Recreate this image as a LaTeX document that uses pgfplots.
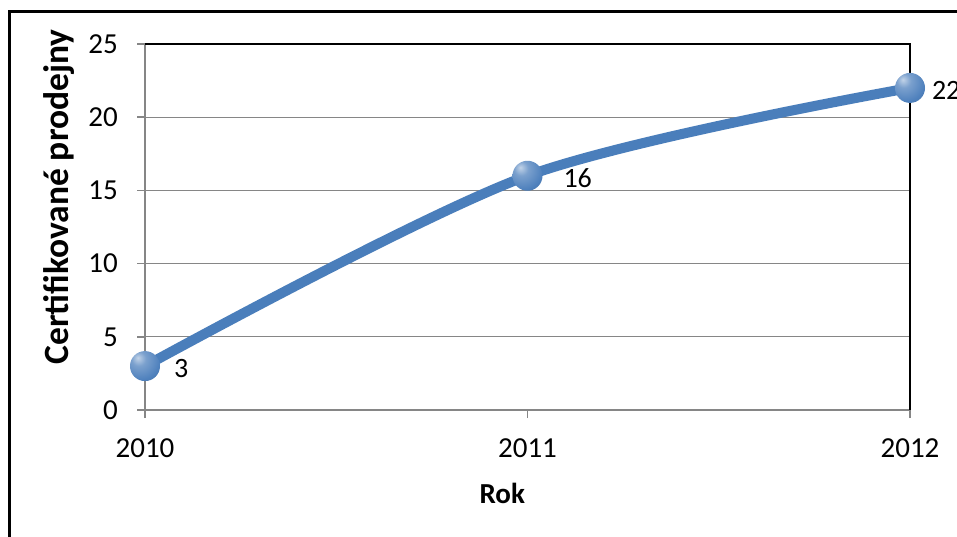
\documentclass[border=0pt]{standalone}
\usepackage{pgfplots}
\pgfplotsset{compat=1.18}
\usepackage{fontspec}
\setmainfont{Carlito}
\definecolor{serie}{RGB}{74,126,187}
\definecolor{ballc}{RGB}{79,129,189}
\definecolor{gridc}{RGB}{134,134,134}
\pgfdeclareradialshading{myballsh}{\pgfpoint{-12bp}{14bp}}{%
  color(0bp)=(ballc!35!white);
  color(12bp)=(ballc!75!white);
  color(32bp)=(ballc);
  color(52bp)=(ballc!80!black);
  color(66bp)=(ballc!55!black);
  color(100bp)=(ballc!55!black)}
\pgfdeclareplotmark{myball}{%
  \pgfpathcircle{\pgfpointorigin}{\pgfplotmarksize}%
  \pgfshadepath{myballsh}{0}%
  \pgfusepath{discard}}
\pgfplotstableread{
x y dx
2010 3 24
2011 16 31
2012 22 17
}\datatab
\begin{document}
\begin{tikzpicture}
\path[use as bounding box] (0pt,0pt) rectangle (957pt,536pt);
\begin{scope}
\clip (0pt,0pt) rectangle (957pt,536pt);
\fill[white] (0pt,0pt) rectangle (957pt,536pt);
\draw[line width=3pt] (9.5pt,-10pt) -- (9.5pt,524pt) -- (980pt,524pt);
\end{scope}
\begin{axis}[
  at={(145pt,126pt)}, anchor=south west,
  scale only axis, width=765pt, height=366pt,
  xmin=2010, xmax=2012, ymin=0, ymax=25,
  xtick={2010,2011,2012}, ytick={0,5,...,25},
  xticklabels={2010,2011,2012},
  /pgf/number format/assume math mode=true,
  tick label style={font=\fontsize{29}{34}\selectfont},
  axis x line*=bottom, axis y line*=left,
  axis line style={gridc, line width=1.5pt},
  tick style={gridc, line width=1.5pt, major tick length=8pt},
  tick align=outside,
  ymajorgrids, grid style={gridc, line width=1.3pt},
  yticklabel style={inner sep=0pt, xshift=-19pt},
  xticklabel style={inner sep=0pt, yshift=-20pt},
  xlabel={\bfseries Rok}, ylabel={\bfseries Certifikované prodejny},
  xlabel style={at={(axis description cs:0.467,-0.227)}, anchor=center, font=\fontsize{29}{34}\selectfont},
  ylabel style={at={(axis description cs:-0.112,0.582)}, anchor=center, rotate=0, font=\fontsize{35.5}{41}\selectfont},
  clip=false,
]
\draw[black, line width=1.2pt] (rel axis cs:0,1) -- (rel axis cs:1,1) -- (rel axis cs:1,0);
\addplot[serie, line width=10pt, smooth, tension=0.5,
  mark=myball, mark size=15pt,
  nodes near coords, point meta=explicit symbolic,
  visualization depends on={\thisrow{dx} \as \dxv},
  nodes near coords style={anchor=west, inner sep=0pt, xshift=\dxv pt, yshift=-2pt, black, font=\fontsize{28}{33}\selectfont},
] table[x=x, y=y, meta=y] {\datatab};
\end{axis}
\end{tikzpicture}
\end{document}
